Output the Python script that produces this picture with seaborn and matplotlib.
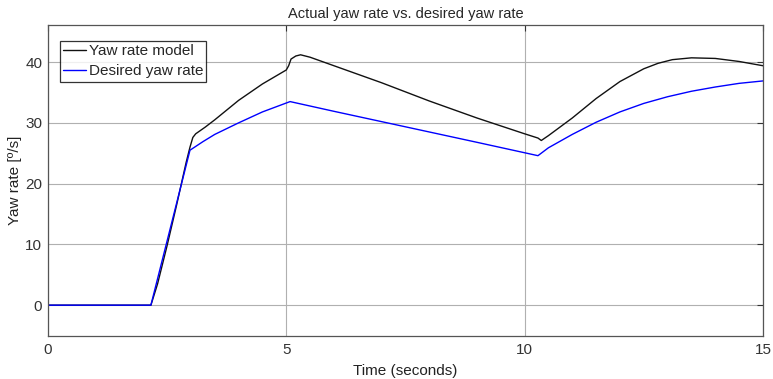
"""Actual yaw rate vs. desired yaw rate (MATLAB-style figure)."""

import matplotlib.pyplot as plt
import pandas as pd
import seaborn as sns

# Yaw rate model (black)
MODEL_T = [0.0, 2.16, 2.3, 2.5, 2.7, 2.9, 2.98, 3.04, 3.1, 3.3, 3.5, 4.0, 4.5, 5.0,
           5.05, 5.1, 5.2, 5.3, 5.5, 6.0, 7.0, 8.0, 9.0, 10.0, 10.28, 10.35,
           10.5, 11.0, 11.5, 12.0, 12.5, 12.8, 13.1, 13.5, 14.0, 14.5, 15.0]
MODEL_Y = [0.0, 0.0, 3.5, 9.8, 16.5, 23.5, 26.0, 27.6, 28.2, 29.3, 30.5, 33.7, 36.4, 38.7,
           39.4, 40.5, 41.0, 41.2, 40.8, 39.4, 36.6, 33.6, 30.8, 28.2, 27.5, 27.1,
           27.9, 30.8, 34.0, 36.8, 38.9, 39.8, 40.4, 40.7, 40.6, 40.1, 39.4]

# Desired yaw rate (blue)
DESIRED_T = [0.0, 2.16, 2.98, 3.25, 3.5, 4.0, 4.5, 5.08, 6.0, 7.0, 8.0, 9.0, 10.28,
             10.5, 11.0, 11.5, 12.0, 12.5, 13.0, 13.5, 14.0, 14.5, 15.0]
DESIRED_Y = [0.0, 0.0, 25.5, 26.9, 28.1, 30.0, 31.8, 33.5, 31.9, 30.2, 28.5, 26.8, 24.6,
             25.9, 28.1, 30.1, 31.8, 33.2, 34.3, 35.2, 35.9, 36.5, 36.9]

SERIES = ["Yaw rate model", "Desired yaw rate"]
COLORS = ["#111111", "#0000ff"]

sns.set_style("white")
plt.rcParams["font.family"] = ["Liberation Sans", "DejaVu Sans"]

df = pd.concat([
    pd.DataFrame({"t": MODEL_T, "y": MODEL_Y, "series": SERIES[0]}),
    pd.DataFrame({"t": DESIRED_T, "y": DESIRED_Y, "series": SERIES[1]}),
])

fig = plt.figure(figsize=(7.73, 3.79), dpi=100)
ax = fig.add_axes([0.062, 0.113, 0.925, 0.821])

sns.lineplot(data=df, x="t", y="y", hue="series", palette=COLORS,
             hue_order=SERIES, linewidth=1.0, sort=False, estimator=None, ax=ax)

ax.set_xlim(0, 15)
ax.set_ylim(-5.1, 46.1)
ax.set_xticks([0, 5, 10, 15])
ax.set_yticks([0, 10, 20, 30, 40])
ax.grid(True, color="#b0b0b0", linewidth=0.8)
ax.set_axisbelow(True)
for s in ax.spines.values():
    s.set_color("#555555")
    s.set_linewidth(0.9)
ax.tick_params(direction="in", length=4, colors="#333333", labelsize=11,
               pad=4, width=0.8)
ax.tick_params(axis="y", right=True)
ax.tick_params(axis="x", top=True, pad=5)

ax.set_xlabel("Time (seconds)", fontsize=11, color="#222222", labelpad=5)
ax.set_ylabel("Yaw rate [º/s]", fontsize=11, color="#222222")
ax.yaxis.set_label_coords(-0.036, 0.5)
ax.set_title("Actual yaw rate vs. desired yaw rate", fontsize=10.5, pad=5)

leg = ax.legend(loc="upper left", bbox_to_anchor=(0.0168, 0.9486), fontsize=11,
                frameon=True, fancybox=False, edgecolor="black",
                handlelength=1.5, handletextpad=0.15, borderpad=0.22,
                labelspacing=0.4, borderaxespad=0.0)
leg.get_frame().set_linewidth(0.9)

fig.savefig("out.png", dpi=100)
plt.close(fig)
